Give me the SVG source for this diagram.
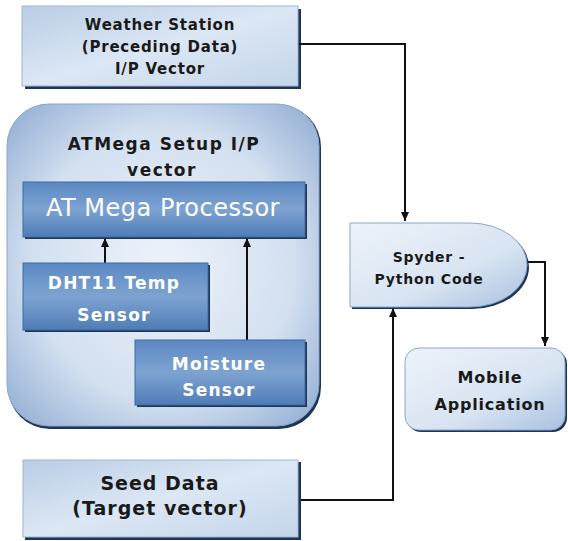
<svg xmlns="http://www.w3.org/2000/svg" width="568" height="541" viewBox="0 0 568 541">
<defs>
<linearGradient id="lightBox" x1="0" y1="0" x2="1" y2="1">
<stop offset="0" stop-color="#b9cde6"/>
<stop offset="0.5" stop-color="#dce7f4"/>
<stop offset="1" stop-color="#c4d5ea"/>
</linearGradient>
<radialGradient id="outerGrad" cx="0.5" cy="0.5" r="0.7">
<stop offset="0" stop-color="#eef3fa"/>
<stop offset="0.6" stop-color="#d3e0f0"/>
<stop offset="1" stop-color="#8fabd2"/>
</radialGradient>
<linearGradient id="darkBox" x1="0" y1="0" x2="0" y2="1">
<stop offset="0" stop-color="#5b88c2"/>
<stop offset="0.5" stop-color="#7ea3d2"/>
<stop offset="1" stop-color="#4f7cb6"/>
</linearGradient>
<linearGradient id="spyGrad" x1="0" y1="0" x2="1" y2="1">
<stop offset="0" stop-color="#eef3fa"/>
<stop offset="0.6" stop-color="#d8e4f2"/>
<stop offset="1" stop-color="#a9c1e0"/>
</linearGradient>
<marker id="arr" markerWidth="10" markerHeight="10" refX="9" refY="5" orient="auto" markerUnits="userSpaceOnUse">
<path d="M0,1 L9,5 L0,9 Z" fill="#111"/>
</marker>
<style>
.t{font-family:"DejaVu Sans","Liberation Sans",sans-serif;font-weight:bold;font-size:15px;letter-spacing:0.8px;fill:#1a1a1a;text-anchor:middle}
.w{font-family:"DejaVu Sans","Liberation Sans",sans-serif;font-weight:bold;font-size:17px;letter-spacing:1.2px;fill:#ffffff;text-anchor:middle}
.big{font-family:"DejaVu Sans","Liberation Sans",sans-serif;font-size:24px;letter-spacing:0.5px;fill:#ffffff;text-anchor:middle}
.sh{fill:#1e3553}
.line{fill:none;stroke:#111;stroke-width:2}
</style>
</defs>

<g id="weather">
<rect class="sh" x="25" y="9" width="276" height="80"/>
<rect x="22" y="6" width="276" height="80" fill="url(#lightBox)" stroke="#9fb6d4" stroke-width="1"/>
<text class="t" x="160" y="30">Weather Station</text>
<text class="t" x="160" y="52">(Preceding Data)</text>
<text class="t" x="160" y="74">I/P Vector</text>
</g>

<g id="atmega-setup">
<rect x="8" y="105" width="313" height="324" rx="42" fill="#1e3553"/>
<rect x="7" y="104" width="312" height="322" rx="42" fill="url(#outerGrad)" stroke="#8aa7cf" stroke-width="1"/>
<text class="t" x="164" y="150" style="font-size:17px;letter-spacing:1.5px">ATMega Setup I/P</text>
<text class="t" x="162" y="176" style="font-size:17px;letter-spacing:1.5px">vector</text>
</g>

<g id="connectors">
<path class="line" d="M299,44 H405 V221" marker-end="url(#arr)"/>
<path class="line" d="M527,262 H545 V346" marker-end="url(#arr)"/>
<path class="line" d="M299,500 H393 V308" marker-end="url(#arr)"/>
<path class="line" d="M105,263 V238" marker-end="url(#arr)"/>
<path class="line" d="M247,340 V238" marker-end="url(#arr)"/>
</g>

<g id="processor">
<rect class="sh" x="25" y="184" width="282" height="55"/>
<rect x="23" y="182" width="282" height="55" fill="url(#darkBox)" stroke="#3f6aa3" stroke-width="1"/>
<text class="big" x="163" y="216">AT Mega Processor</text>
</g>

<g id="dht11">
<rect class="sh" x="25" y="265" width="185" height="67"/>
<rect x="23" y="263" width="185" height="67" fill="url(#darkBox)" stroke="#3f6aa3" stroke-width="1"/>
<text class="w" x="114" y="289">DHT11 Temp</text>
<text class="w" x="114" y="321">Sensor</text>
</g>

<g id="moisture">
<rect class="sh" x="137" y="342" width="170" height="65"/>
<rect x="135" y="340" width="170" height="65" fill="url(#darkBox)" stroke="#3f6aa3" stroke-width="1"/>
<text class="w" x="219" y="370">Moisture</text>
<text class="w" x="219" y="396">Sensor</text>
</g>

<g id="spyder">
<path d="M352,225 H472 A57,42 0 0 1 472,309 H352 Z" fill="#1e3553"/>
<path d="M350,223 H470 A57,42 0 0 1 470,307 H350 Z" fill="url(#spyGrad)" stroke="#8aa7cf" stroke-width="1"/>
<text class="t" x="429" y="262" style="font-size:14px">Spyder -</text>
<text class="t" x="429" y="284" style="font-size:14px">Python Code</text>
</g>

<g id="mobile">
<rect x="407" y="350" width="160" height="82" rx="14" fill="#1e3553"/>
<rect x="405" y="348" width="160" height="82" rx="14" fill="url(#spyGrad)" stroke="#8aa7cf" stroke-width="1"/>
<text class="t" x="490" y="383" style="font-size:16px">Mobile</text>
<text class="t" x="490" y="410" style="font-size:16px">Application</text>
</g>

<g id="seed">
<rect class="sh" x="25" y="462" width="276" height="78"/>
<rect x="23" y="460" width="275" height="77" fill="url(#lightBox)" stroke="#9fb6d4" stroke-width="1"/>
<text class="t" x="160" y="490" style="font-size:19px;letter-spacing:1px">Seed Data</text>
<text class="t" x="160" y="515" style="font-size:19px;letter-spacing:1px">(Target vector)</text>
</g>
</svg>
